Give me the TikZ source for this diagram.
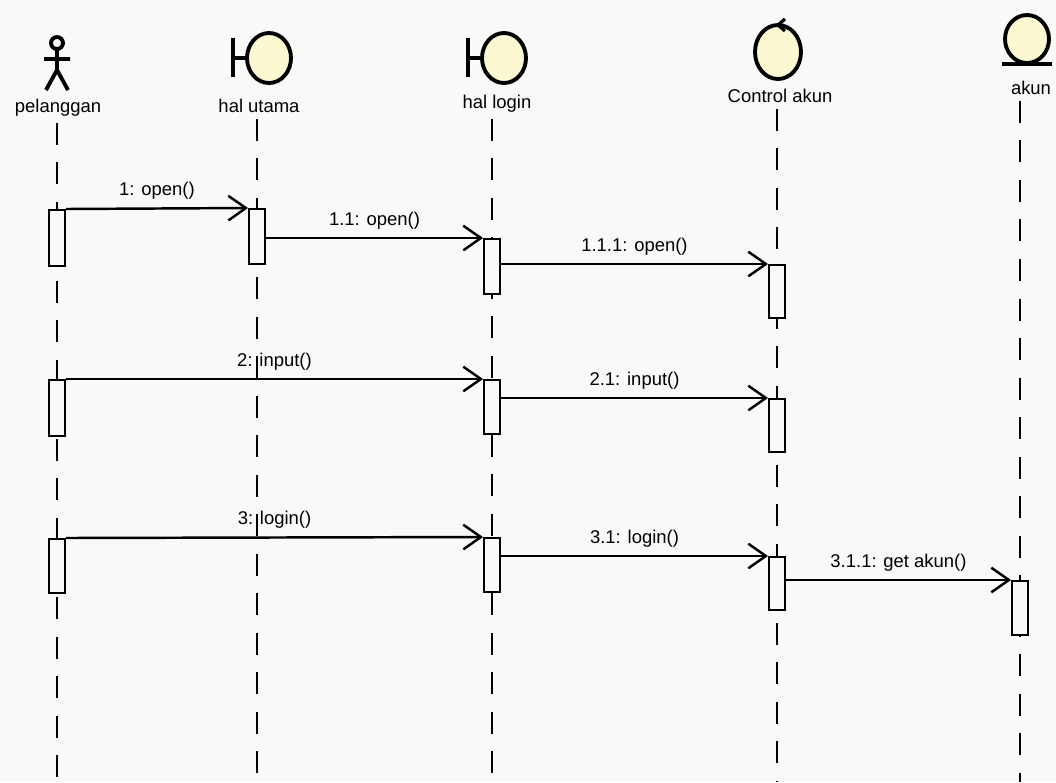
\documentclass[tikz,border=0pt]{standalone}
\usepackage{fontspec}
\setmainfont{Liberation Sans}
\usetikzlibrary{arrows.meta}
\definecolor{iconfill}{RGB}{252,248,210}
\definecolor{paper}{RGB}{249,249,247}
\begin{document}
\begin{tikzpicture}[x=0.02cm, y=-0.02cm,
    font=\fontsize{10.5}{12}\selectfont,
    icon/.style={line width=2.2pt, fill=iconfill},
    stick/.style={line width=2.2pt},
    heading/.style={inner sep=1pt},
    lifeline/.style={line width=1.4pt, dash pattern=on 12.5pt off 10pt},
    act/.style={draw, line width=1.2pt, fill=paper, minimum width=9pt,
      minimum height=#1*0.02cm, inner sep=0pt, anchor=north},
    msg/.style={line width=1.4pt,
      -{Straight Barb[length=10pt,width=14pt,line width=1.4pt]}}]
  \path[use as bounding box, fill=paper] (0,0) rectangle (1056,782);
  % icons
  \draw[stick] (57,43) circle [radius=6]
    (57,49) -- (57,70) (44,59) -- (70,59)
    (46,90) -- (57,70) -- (68,90);
  \draw[stick] (233,38) -- (233,77) (233,58) -- (247,58);
  \draw[icon] (269,58) ellipse [x radius=22, y radius=25];
  \draw[stick] (468,38) -- (468,77) (468,58) -- (482,58);
  \draw[icon] (504,58) ellipse [x radius=22, y radius=25];
  \draw[icon] (778,52) ellipse [x radius=23, y radius=27];
  \draw[line width=1.8pt] (785,19) -- (778,25) -- (785,31);
  \draw[icon] (1027,39) ellipse [x radius=22, y radius=24];
  \draw[stick] (1002,64) -- (1052,64);
  \draw
    (58,108) node[heading] (pelanggan) {pelanggan}
    (259,106) node[heading] (halutama) {hal utama}
    (497,104) node[heading] (hallogin) {hal login}
    (780,96) node[heading] (controlakun) {Control akun}
    (1031,88) node[heading] (akun) {akun};
  \coordinate (pelEnd) at (57,782);
  \coordinate (huEnd) at (257,782);
  \coordinate (hlEnd) at (492,782);
  \coordinate (caEnd) at (777,782);
  \coordinate (akEnd) at (1020,782);
  \begin{scope}[lifeline]
    \draw (pelanggan.south -| pelEnd) ++(0,4) -- (pelEnd);
    \draw (halutama.south -| huEnd) ++(0,4) -- (huEnd);
    \draw (hallogin.south -| hlEnd) ++(0,4) -- (hlEnd);
    \draw (controlakun.south -| caEnd) ++(0,4) -- (caEnd);
    \draw (akun.south -| akEnd) ++(0,4) -- (akEnd);
  \end{scope}
  % activations
  \node[act=56] (p1) at (57,209) {};
  \node[act=56] (p2) at (57,379) {};
  \node[act=54] (p3) at (57,538) {};
  \node[act=55] (u1) at (257,208) {};
  \node[act=55] (l1) at (492,238) {};
  \node[act=54] (l2) at (492,379) {};
  \node[act=54] (l3) at (492,537) {};
  \node[act=53] (c1) at (777,264) {};
  \node[act=53] (c2) at (777,398) {};
  \node[act=53] (c3) at (777,556) {};
  \node[act=54] (a1) at (1020,580) {};
  % messages
  \begin{scope}[msg]
    \draw (p1.north east) -- node[midway, above=1pt] {1: open()} (u1.north west);
    \draw (u1.east |- l1.north) -- node[midway, above=1pt] {1.1: open()} (l1.north west);
    \draw (l1.east |- c1.north) -- node[midway, above=1pt] {1.1.1: open()} (c1.north west);
    \draw (p2.north east) -- node[midway, above=1pt] {2: input()} (l2.north west);
    \draw (l2.east |- c2.north) -- node[midway, above=1pt] {2.1: input()} (c2.north west);
    \draw (p3.north east) -- node[midway, above=1pt] {3: login()} (l3.north west);
    \draw (l3.east |- c3.north) -- node[midway, above=1pt] {3.1: login()} (c3.north west);
    \draw (c3.east |- a1.north) -- node[midway, above=1pt] {3.1.1: get akun()} (a1.north west);
  \end{scope}
\end{tikzpicture}
\end{document}
